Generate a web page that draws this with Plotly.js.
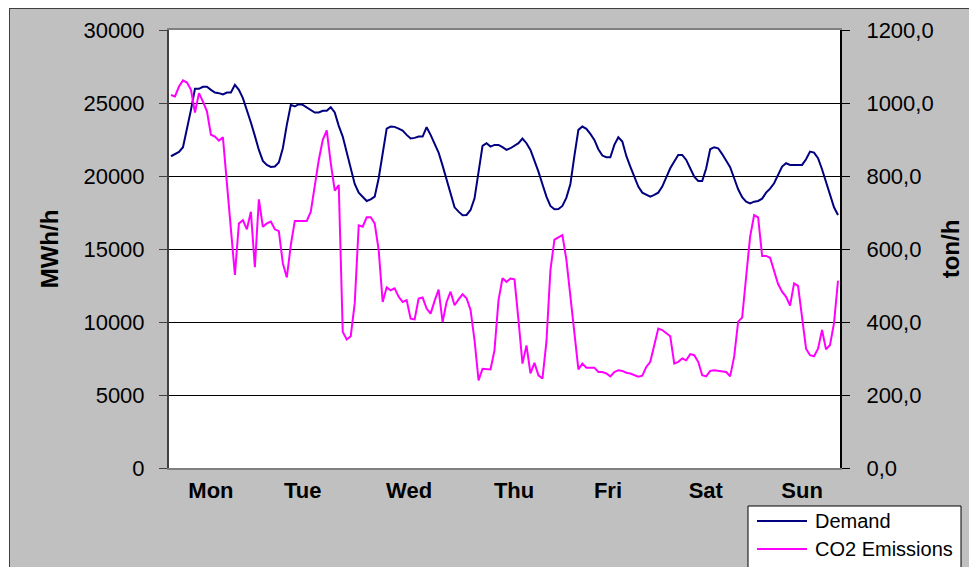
<!DOCTYPE html>
<html><head><meta charset="utf-8">
<script src="https://cdn.plot.ly/plotly-3.0.1.min.js"></script>
<style>
html,body{margin:0;padding:0;background:#fff;width:969px;height:567px;overflow:hidden;}
#frame{position:absolute;left:9px;top:8px;width:990px;height:600px;background:#C0C0C0;border:1px solid #404040;}
#chart{position:absolute;left:0;top:0;width:969px;height:567px;}
</style></head><body>
<div id="frame"></div><div id="chart"></div>
<script>
// Hourly demand (MWh/h), Monday 00:00 .. Sunday 23:00
const demand = [
21353,21490,21650,21971,23159,24531,25971,25971,26109,26109,25903,25720,25674,25583,25720,25720,26246,25903,25331,24531,23662,22748,21788,21033,
20759,20622,20645,20919,21902,23502,24874,24760,24920,24874,24714,24531,24348,24348,24463,24463,24714,24348,23434,22702,21605,20462,19456,18861,
18587,18290,18404,18587,19844,21673,23251,23388,23365,23251,23114,22816,22565,22611,22702,22702,23342,22816,22245,21605,20713,19730,18701,17855,
17558,17307,17330,17673,18473,20416,22062,22245,22016,22130,22130,21971,21788,21902,22062,22245,22565,22245,21788,21102,20301,19433,18587,17947,
17718,17741,17947,18518,19456,21376,23159,23388,23228,22885,22474,21833,21399,21285,21285,22131,22656,22360,21376,20645,19959,19273,18861,18747,
18587,18701,18861,19273,19959,20530,20987,21445,21445,21102,20530,19959,19662,19662,20530,21833,21971,21900,21500,21056,20599,19844,19090,18541,
18244,18130,18244,18290,18450,18861,19136,19502,20050,20645,20873,20759,20759,20759,20759,21148,21673,21605,21216,20462,19547,18633,17855,17330
];
// Hourly CO2 emissions (ton/h)
const co2 = [
1022,1018,1045,1062,1056,1036,974,1027,1004,977,913,908,897,906,780,652,529,670,679,654,702,550,736,661,
670,675,654,649,561,522,611,677,677,677,677,702,771,844,899,925,835,760,775,373,352,361,451,665,
661,687,687,670,597,455,495,487,492,469,455,460,409,407,464,467,437,423,458,489,400,455,483,446,
462,476,465,433,350,240,272,270,270,323,460,520,510,519,517,405,286,336,259,288,254,245,346,542,
626,632,638,570,474,378,270,286,275,275,275,263,263,259,251,263,268,266,261,259,255,250,253,277,
291,341,382,378,370,361,286,291,300,295,312,309,291,254,251,266,268,266,263,263,251,305,401,412,
524,634,693,687,581,581,576,540,504,483,469,445,506,499,414,327,309,306,327,378,325,337,397,513
];
const hours = demand.map((_, i) => i);
const dayLabels = ['Mon','Tue','Wed','Thu','Fri','Sat','Sun'];
const dayLabelPos = [10, 33, 59.6, 85.9, 109.4, 133.9, 158];
const leftTicks = [0,5000,10000,15000,20000,25000,30000];
const leftTickText = ['0','5000','10000','15000','20000','25000','30000'];
const rightTicks = [0,200,400,600,800,1000,1200];
const rightTickText = ['0,0','200,0','400,0','600,0','800,0','1000,0','1200,0'];
const seriesNames = ['Demand','CO2 Emissions'];
const seriesColors = ['#000080','#FF00FF'];

const FONT = 'Arial, "Liberation Sans", sans-serif';

const traces = [
  {x: hours, y: demand, name: seriesNames[0], type: 'scatter', mode: 'lines',
   line: {color: seriesColors[0], width: 2}, yaxis: 'y'},
  {x: hours, y: co2, name: seriesNames[1], type: 'scatter', mode: 'lines',
   line: {color: seriesColors[1], width: 2}, yaxis: 'y2'}
];

// plot area in pixels: x 169..840, y 30..468
const PL = 169, PR = 840, PT = 30, PB = 468;
const px = v => (v - PL) / (PR - PL);
const py = v => (PB - v) / (PB - PT);

const legendRows = [521, 549];
const shapes = [
  {type: 'rect', xref: 'paper', yref: 'paper', x0: px(748), x1: px(961), y0: py(506), y1: py(590),
   fillcolor: '#FFFFFF', line: {color: '#000', width: 1}, layer: 'above'}
];
const annotations = [];
seriesNames.forEach((n, k) => {
  shapes.push({type: 'line', xref: 'paper', yref: 'paper', x0: px(757), x1: px(807),
               y0: py(legendRows[k]), y1: py(legendRows[k]),
               line: {color: seriesColors[k], width: 2}, layer: 'above'});
  annotations.push({xref: 'paper', yref: 'paper', x: px(813), y: py(legendRows[k]),
                    xanchor: 'left', yanchor: 'middle', text: n, showarrow: false,
                    font: {family: FONT, size: 20, color: '#000'}});
});

const layout = {
  width: 969, height: 567,
  margin: {l: PL, r: 969 - PR, t: PT, b: 567 - PB, pad: 0},
  paper_bgcolor: 'rgba(0,0,0,0)',
  plot_bgcolor: '#FFFFFF',
  font: {family: FONT, color: '#000'},
  showlegend: false,
  shapes: shapes,
  annotations: annotations,
  xaxis: {range: [-0.5, 167.5], tickmode: 'array', tickvals: dayLabelPos, ticktext: dayLabels,
          tickfont: {family: FONT, size: 22, weight: 'bold', color: '#000'},
          ticks: '', showgrid: false, zeroline: false,
          showline: true, linecolor: '#808080', linewidth: 2, mirror: true,
          ticklabelstandoff: 2, fixedrange: true},
  yaxis: {range: [0, 30000], tickmode: 'array', tickvals: leftTicks, ticktext: leftTickText,
          tickfont: {family: FONT, size: 22, color: '#000'},
          ticks: 'outside', ticklen: 8, tickwidth: 1, tickcolor: '#404040',
          showgrid: true, gridcolor: '#000', gridwidth: 1, zeroline: false,
          showline: true, linecolor: '#404040', linewidth: 2,
          ticklabelstandoff: 10,
          title: {text: 'MWh/h', font: {family: FONT, size: 24, weight: 'bold', color: '#000'}, standoff: 18}},
  yaxis2: {range: [0, 1200], overlaying: 'y', side: 'right', tickmode: 'array',
           tickvals: rightTicks, ticktext: rightTickText,
           tickfont: {family: FONT, size: 22, color: '#000'},
           ticks: 'outside', ticklen: 8, tickwidth: 1, tickcolor: '#000',
           showgrid: false, zeroline: false,
           showline: true, linecolor: '#000', linewidth: 2,
           ticklabelstandoff: 12,
           title: {text: 'ton/h', font: {family: FONT, size: 24, weight: 'bold', color: '#000'}, standoff: 10}}
};

Plotly.newPlot('chart', traces, layout, {displayModeBar: false, staticPlot: true});
</script>
</body></html>
